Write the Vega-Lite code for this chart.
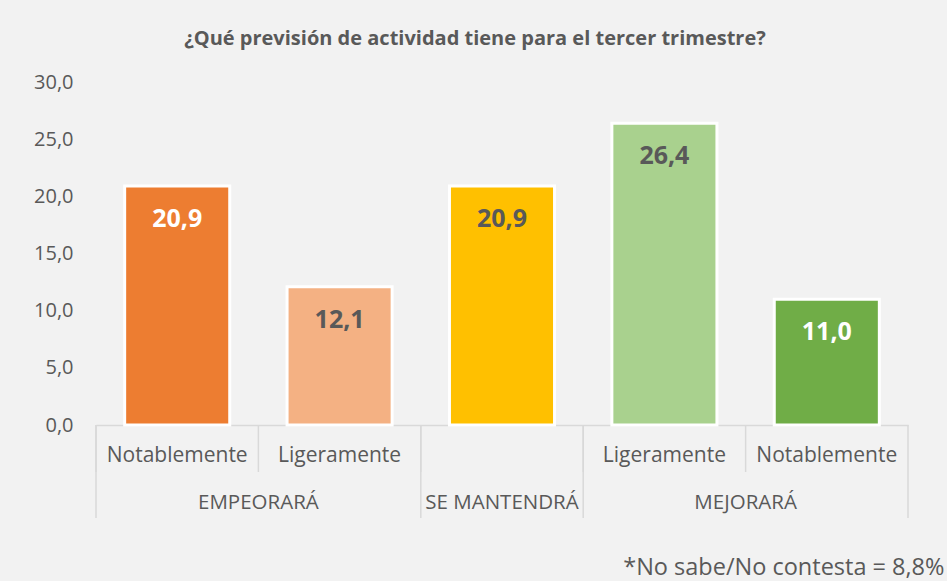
{
  "$schema": "https://vega.github.io/schema/vega-lite/v6.json",
  "width": 812,
  "height": 343,
  "autosize": "none",
  "padding": {"left": 96, "top": 82, "right": 39, "bottom": 156},
  "background": "#F2F2F2",
  "config": {
    "view": {"stroke": null},
    "font": "Open Sans",
    "locale": {"number": {"decimal": ",", "thousands": ".", "grouping": [3], "currency": ["", " €"]}}
  },
  "title": {
    "text": "¿Qué previsión de actividad tiene para el tercer trimestre?",
    "fontSize": 20,
    "fontWeight": "bold",
    "color": "#595959",
    "font": "Open Sans",
    "anchor": "middle",
    "dx": -27,
    "offset": 23
  },
  "datasets": {
    "barras": [
      {"id": 1, "grupo": "EMPEORARÁ", "nivel": "Notablemente", "valor": 20.9},
      {"id": 2, "grupo": "EMPEORARÁ", "nivel": "Ligeramente", "valor": 12.1},
      {"id": 3, "grupo": "SE MANTENDRÁ", "nivel": "", "valor": 20.9},
      {"id": 4, "grupo": "MEJORARÁ", "nivel": "Ligeramente", "valor": 26.4},
      {"id": 5, "grupo": "MEJORARÁ", "nivel": "Notablemente", "valor": 11.0}
    ],
    "separadores": [
      {"id": 1, "tipo": "grupo"},
      {"id": 2, "tipo": "sub"},
      {"id": 3, "tipo": "grupo"},
      {"id": 4, "tipo": "grupo"},
      {"id": 5, "tipo": "sub"}
    ],
    "fin": [{"id": 5}],
    "gruposBorde": [
      {"id": 2, "grupo": "EMPEORARÁ"},
      {"id": 5, "grupo": "MEJORARÁ"}
    ],
    "gruposCentro": [{"id": 3, "grupo": "SE MANTENDRÁ"}]
  },
  "layer": [
    {
      "data": {"name": "barras"},
      "mark": {"type": "bar", "width": {"band": 0.647}, "stroke": "white", "strokeWidth": 3},
      "encoding": {
        "x": {
          "field": "id",
          "type": "ordinal",
          "scale": {"paddingInner": 0, "paddingOuter": 0, "domain": [1, 2, 3, 4, 5]},
          "axis": {
            "labels": false,
            "ticks": false,
            "domain": true,
            "domainColor": "#D9D9D9",
            "domainWidth": 1.5,
            "title": "*No sabe/No contesta = 8,8%",
            "titleFont": "Open Sans",
            "titleFontSize": 23.5,
            "titleFontWeight": "normal",
            "titleColor": "#595959",
            "titleAnchor": "end",
            "titleAlign": "right",
            "titleBaseline": "middle",
            "titleX": 848,
            "titleY": 142
          }
        },
        "y": {
          "field": "valor",
          "type": "quantitative",
          "scale": {"domain": [0, 30]},
          "axis": {
            "values": [0, 5, 10, 15, 20, 25, 30],
            "format": ".1f",
            "domain": false,
            "ticks": false,
            "grid": false,
            "labelFontSize": 20,
            "labelColor": "#595959",
            "labelPadding": 23,
            "title": null
          }
        },
        "color": {
          "field": "id",
          "type": "ordinal",
          "scale": {"domain": [1, 2, 3, 4, 5], "range": ["#ED7D31", "#F4B183", "#FFC000", "#A9D18E", "#70AD47"]},
          "legend": null
        }
      }
    },
    {
      "data": {"name": "barras"},
      "mark": {"type": "text", "dy": 33, "fontSize": 25, "fontWeight": "bold", "baseline": "middle"},
      "encoding": {
        "x": {"field": "id", "type": "ordinal"},
        "y": {"field": "valor", "type": "quantitative"},
        "text": {"field": "valor", "type": "quantitative", "format": ".1f"},
        "color": {"condition": {"test": "datum.id == 1 || datum.id == 5", "value": "white"}, "value": "#595959"}
      }
    },
    {
      "data": {"name": "barras"},
      "mark": {"type": "text", "fontSize": 21, "color": "#595959", "baseline": "middle"},
      "encoding": {
        "x": {"field": "id", "type": "ordinal"},
        "y": {"value": 374},
        "text": {"field": "nivel"}
      }
    },
    {
      "data": {"name": "separadores"},
      "mark": {"type": "rule", "color": "#D9D9D9", "strokeWidth": 1.5},
      "encoding": {
        "x": {"field": "id", "type": "ordinal", "bandPosition": 0},
        "y": {"value": 343},
        "y2": {"value": 390}
      }
    },
    {
      "data": {"name": "separadores"},
      "transform": [{"filter": "datum.tipo == 'grupo'"}],
      "mark": {"type": "rule", "color": "#D9D9D9", "strokeWidth": 1.5},
      "encoding": {
        "x": {"field": "id", "type": "ordinal", "bandPosition": 0},
        "y": {"value": 343},
        "y2": {"value": 436}
      }
    },
    {
      "data": {"name": "fin"},
      "mark": {"type": "rule", "color": "#D9D9D9", "strokeWidth": 1.5},
      "encoding": {
        "x": {"field": "id", "type": "ordinal", "bandPosition": 1},
        "y": {"value": 343},
        "y2": {"value": 436}
      }
    },
    {
      "data": {"name": "gruposBorde"},
      "mark": {"type": "text", "fontSize": 20.5, "color": "#595959", "baseline": "middle"},
      "encoding": {
        "x": {"field": "id", "type": "ordinal", "bandPosition": 0},
        "y": {"value": 421},
        "text": {"field": "grupo"}
      }
    },
    {
      "data": {"name": "gruposCentro"},
      "mark": {"type": "text", "fontSize": 20.5, "color": "#595959", "baseline": "middle"},
      "encoding": {
        "x": {"field": "id", "type": "ordinal", "bandPosition": 0.5},
        "y": {"value": 421},
        "text": {"field": "grupo"}
      }
    }
  ]
}
